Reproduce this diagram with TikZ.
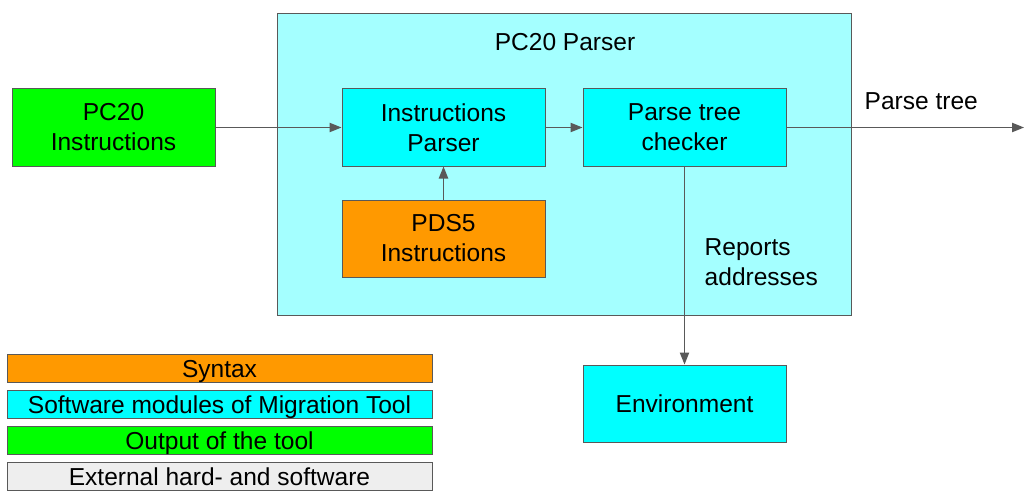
\documentclass[tikz,border=0pt]{standalone}
\usepackage{fontspec}
\setmainfont{Liberation Sans}
\usetikzlibrary{arrows.meta,positioning}
\definecolor{parserbg}{HTML}{A4FFFF}
\definecolor{syntaxc}{HTML}{FF9900}
\definecolor{modulec}{HTML}{00FFFF}
\definecolor{outputc}{HTML}{00FF00}
\definecolor{externc}{HTML}{EEEEEE}
\definecolor{linec}{HTML}{595959}

\begin{document}
\begin{tikzpicture}[
x=0.75pt, y=-0.75pt,
font=\fontsize{18.4}{22.5}\selectfont,
block/.style={draw=linec, line width=0.75pt, minimum width=152.25pt, minimum height=57.75pt, align=center, inner sep=0pt},
legend/.style={draw=linec, line width=0.75pt, minimum width=318.75pt, minimum height=21pt, inner sep=0pt, text height=15.5pt, text depth=1.7pt},
flow/.style={->, draw=linec, line width=0.9pt, >={Stealth[length=9pt,width=7pt,inset=0pt]}}
]
    \useasboundingbox (0,0) rectangle (1034,499);

    % outer parser box
    \node[draw=linec, line width=0.75pt, fill=parserbg, minimum width=430.5pt, minimum height=225.75pt] (parser) at (564,164.5) {};
    \node (title) at (565,42.5) {PC20 Parser};

    % blocks
    \node[block, fill=outputc] (pcin) at (113.5,127.5) {PC20\\Instructions};
    \node[block, fill=modulec] (ipars) at (443.5,127.5) {Instructions\\Parser};
    \node[block, fill=modulec] (check) at (684.5,127.5) {Parse tree\\checker};
    \node[block, fill=syntaxc] (pds) at (443.5,238.5) {PDS5\\Instructions};
    \node[block, fill=modulec] (env) at (684.5,403.5) {Environment};

    \coordinate (out) at (1024,127.5);

    % connectors
    \draw[flow] (pcin) -- (ipars);
    \draw[flow] (ipars) -- (check);
    \draw[flow] (check) -- (out);
    \draw[flow] (pds) -- (ipars);
    \draw[flow] (check) -- (env);

    \node[anchor=west] (treelbl) at (860,101) {Parse tree};
    \node[anchor=west, align=left] (replbl) at (700,262) {Reports\\addresses};

    % legend
    \node[legend, fill=syntaxc] (lsyn) at (219.5,368) {Syntax};
    \node[legend, fill=modulec] (lmod) at (219.5,404) {Software modules of Migration Tool};
    \node[legend, fill=outputc] (lout) at (219.5,440) {Output of the tool};
    \node[legend, fill=externc] (lext) at (219.5,476) {External hard- and software};
\end{tikzpicture}
\end{document}
